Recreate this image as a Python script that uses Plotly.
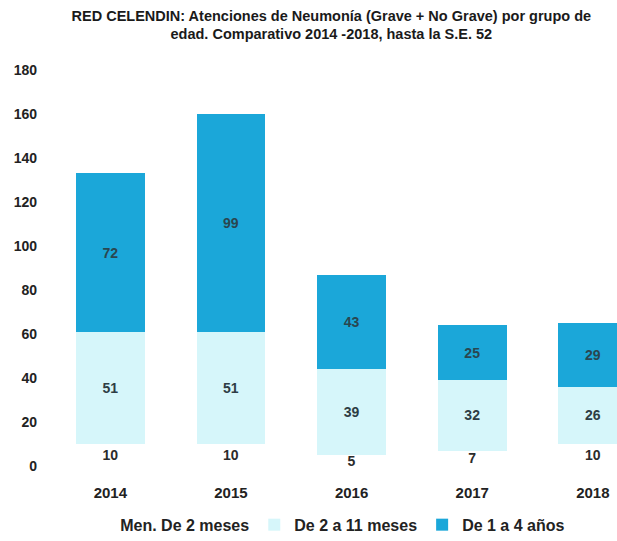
import plotly.graph_objects as go

years = ["2014", "2015", "2016", "2017", "2018"]
men_2_meses = [10, 10, 5, 7, 10]
de_2_a_11_meses = [51, 51, 39, 32, 26]
de_1_a_4_anios = [72, 99, 43, 25, 29]

series_names = ["Men. De 2 meses", "De 2 a 11 meses", "De 1 a 4 años"]
y_ticks = [0, 20, 40, 60, 80, 100, 120, 140, 160, 180]

FONT = "Liberation Sans Narrow, Arial Narrow, Liberation Sans, Arial, sans-serif"
colors = ["#ffffff", "#d6f6fa", "#1ba7d9"]
label_colors = ["#2b2b2b", "#2e3d44", "#2a4650"]

fig = go.Figure()
for name, vals, col, lcol in zip(series_names,
                                 [men_2_meses, de_2_a_11_meses, de_1_a_4_anios],
                                 colors, label_colors):
    fig.add_trace(go.Bar(
        x=years, y=vals, name=name,
        marker=dict(color=col, line=dict(width=0)),
        text=vals, texttemplate="%{text}",
        textposition="inside", insidetextanchor="middle",
        constraintext="none", textangle=0,
        textfont=dict(family=FONT, size=14, color=lcol, weight="bold"),
        cliponaxis=True,
    ))

fig.update_layout(
    barmode="stack",
    bargap=0.43,
    width=617, height=541,
    margin=dict(l=50, r=0, t=70, b=75),
    paper_bgcolor="white", plot_bgcolor="white",
    font=dict(family=FONT, size=14, color="#222222"),
    title=dict(
        text="<b>RED CELENDIN: Atenciones de Neumonía (Grave + No Grave) por grupo de<br>edad. Comparativo 2014 -2018, hasta la S.E. 52</b>",
        x=0.537, xanchor="center", y=0.962, yanchor="top",
        font=dict(family=FONT, size=14.5, color="#1a1a1a"),
    ),
    xaxis=dict(
        range=[-0.5, 4.2], showgrid=False, showline=False, zeroline=False,
        ticks="", ticklabelstandoff=16,
        tickfont=dict(family=FONT, size=15, color="#222222", weight="bold"),
    ),
    yaxis=dict(
        range=[0, 180], tickvals=y_ticks, showgrid=False, showline=False,
        zeroline=False, ticks="", ticklabelstandoff=12,
        tickfont=dict(family=FONT, size=14, color="#222222", weight="bold"),
    ),
    showlegend=True,
    legend=dict(
        orientation="h", xref="container", yref="container",
        x=0.13, xanchor="left", y=0.03, yanchor="middle",
        font=dict(family=FONT, size=16, color="#222222", weight="bold"),
        traceorder="normal", itemclick=False,
    ),
)

fig.write_html("out.html")
